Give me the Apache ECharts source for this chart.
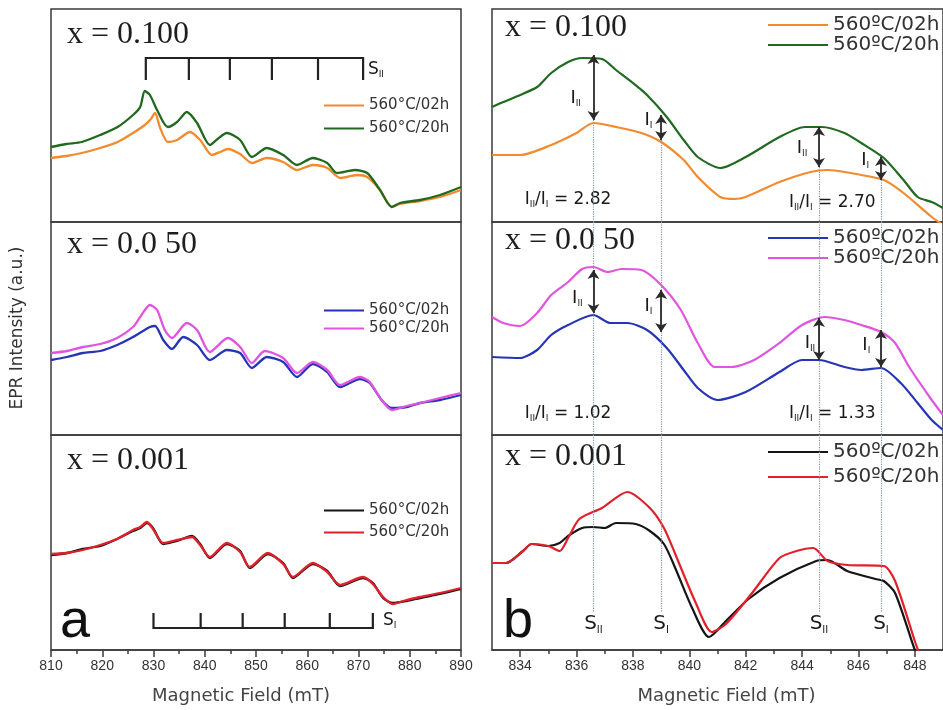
<!DOCTYPE html>
<html>
<head>
<meta charset="utf-8">
<script src="https://cdn.jsdelivr.net/npm/echarts/dist/echarts.min.js"></script>
<style>
  html, body { margin: 0; padding: 0; background: #fff; }
  #chart { width: 943px; height: 710px; }
</style>
</head>
<body>
<div id="chart"></div>
<script>
// ---------- Axis ticks ----------
const fieldTicksA = [810, 820, 830, 840, 850, 860, 870, 880, 890];
const fieldTicksB = [834, 836, 838, 840, 842, 844, 846, 848];
const fieldMinorB = [835, 837, 839, 841, 843, 845, 847];

// ---------- Panel labels ----------
const compositions = ['x = 0.100', 'x = 0.0 50', 'x = 0.001'];
const treatments = ['560°C/02h', '560°C/20h'];
const treatmentsB = ['560ºC/02h', '560ºC/20h'];

// ---------- (a) wide scans, [field mT, intensity a.u.] ----------
const a100_02h = [[810,64],[813,66],[816,69],[819.6,74],[823,80],[826,89],[828.3,97],[829.5,103],[830.3,109],[831.3,94],[832.8,80],[834.6,82],[837.1,90],[839.1,82],[841.4,67],[843,70],[844.5,73],[846.9,68],[849.2,59],[852.1,64],[855.3,60],[858,52],[861.1,57],[863.9,54],[866.4,44],[869.7,47],[871.7,45],[874.2,32],[876.5,15],[878.1,18],[882,21],[885.9,25],[890,32]];
const a100_20h = [[810,75],[813,78],[816,80],[819.6,87],[823,95],[826,107],[827.4,115],[828.3,131],[829.3,127],[830.7,112],[832.8,95],[834.6,100],[836.5,110],[838.5,99],[841,77],[842.5,83],[844.3,89],[846.9,82],[849.2,65],[852.1,74],[855.3,67],[858,57],[861.1,64],[863.9,59],[865.8,49],[869.3,52],[871.7,49],[874.2,32],[876.5,15],[878.1,19],[882,22],[885.9,27],[890,35]];

const a050_02h = [[810,75],[813.1,78],[816.2,82],[819.6,84],[822.9,90],[826,98],[829.3,108],[830.3,109],[831.9,95],[833.6,86],[835.8,98],[838.5,90],[841,75],[844.3,85],[846.9,82],[849.2,67],[852.1,78],[855.3,73],[858,58],[861.1,71],[863.9,63],[866.4,48],[870.3,56],[872.2,52],[874.5,35],[876.5,27],[879.4,28],[882,32],[885.9,35],[890,40]];
const a050_20h = [[810,82],[813.1,84],[816.2,88],[819.6,91],[822.9,97],[826,108],[827.4,118],[829.3,130],[830.7,125],[832.2,105],[833.6,97],[836.5,112],[838.5,105],[841,83],[844.5,97],[846.9,88],[849.2,72],[851.7,84],[855.3,77],[858,62],[861.1,73],[863.9,65],[866.4,50],[870.3,58],[872.2,53],[874.5,35],[876.5,25],[879.4,29],[882,32],[885.9,37],[890,42]];

const a001_02h = [[810,95],[813.1,97],[816.2,101],[819.6,104],[822.9,111],[826,119],[827.4,122],[828.7,127],[829.9,122],[831.9,106],[834.6,109],[837.5,114],[839.1,106],[841,92],[844.3,106],[846.9,99],[848.8,82],[852.3,96],[855.3,87],[857.2,72],[861.1,86],[863.9,79],[866.4,64],[870.9,72],[872.8,67],[874.8,52],[876.7,47],[879.4,49],[882,52],[885.9,56],[890,61]];
const a001_20h = [[810,96],[813.1,97],[816.2,100],[819.6,105],[822.9,111],[826,120],[827.4,123],[828.7,128],[829.9,121],[831.9,107],[834.6,110],[837.5,113],[839.1,105],[841,93],[844.3,107],[846.9,98],[848.8,83],[852.3,97],[855.3,86],[857.2,73],[861.1,87],[863.9,78],[866.4,65],[870.9,73],[872.8,66],[874.8,53],[876.7,46],[879.4,50],[882,53],[885.9,57],[890,62]];

// hyperfine stick patterns
const combSII = [828.5, 836.9, 844.9, 853.1, 862.1, 870.9];
const combSI = [830, 839.2, 847.4, 855.6, 864.4, 872.8];
const combSIIlevels = [164, 142];
const combSIlevels = [22, 37];

// ---------- (b) expanded scans ----------
const b100_02h = [[833,67],[834,67],[835.1,77],[836,89],[836.6,99],[837.4,95],[838.3,89],[839,80],[839.8,62],[840.3,45],[841.1,25],[841.6,23],[842,25],[843.2,40],[844.3,50],[844.9,52],[846.1,47],[846.9,42],[847.6,29],[848.6,5],[849,-3]];
const b100_20h = [[833,115],[833.4,120],[834,127],[834.6,135],[835.1,149],[835.7,160],[836.2,164],[836.9,163],[837.4,152],[838,139],[838.5,127],[839.2,105],[839.8,82],[840.3,65],[841.1,54],[842,65],[843.2,85],[844.1,95],[844.7,95],[845.5,89],[846.1,79],[846.9,64],[847.6,42],[848.1,25],[848.6,20],[849,14]];

const b050_02h = [[833,78],[834,77],[834.6,85],[835.1,100],[835.7,110],[836.6,120],[837.2,112],[837.8,112],[838.5,105],[839.2,87],[839.8,65],[840.3,47],[841,35],[842,43],[843.2,63],[844,75],[844.6,75],[845.5,68],[846.1,65],[846.8,67],[847.5,52],[848.1,32],[848.6,15],[849,5]];
const b050_20h = [[833,118],[833.4,112],[834,109],[834.6,122],[835.1,140],[835.7,153],[836.2,166],[836.6,168],[837.1,163],[837.6,166],[838.3,165],[839,150],[839.7,125],[840.3,92],[840.9,68],[841.5,68],[842.3,75],[843.2,92],[844,110],[844.8,118],[845.5,115],[846.1,110],[846.8,103],[847.3,92],[847.8,68],[848.6,35],[849,20]];

const b001_02h = [[833,87],[833.5,87],[834.1,99],[834.4,106],[835,104],[835.4,107],[835.7,114],[836.2,122],[836.6,123],[837,122],[837.4,127],[838.1,126],[838.6,119],[839.1,106],[839.5,82],[840.1,42],[840.7,13],[841.3,29],[842.1,51],[843.2,72],[844.5,89],[844.9,90],[845.6,79],[846.6,71],[846.9,69],[847.3,57],[848,0],[848.3,-20]];
const b001_20h = [[833,87],[833.5,87],[834.1,99],[834.4,106],[835,104],[835.4,99],[835.7,112],[836.1,131],[836.9,142],[837.8,158],[838.6,142],[839.1,122],[839.5,96],[840.2,49],[840.8,18],[841.3,26],[842.2,56],[843.2,92],[843.8,99],[844.4,102],[844.9,89],[845.6,85],[846.9,84],[847.3,69],[848,9],[848.3,-15]];

// S_II / S_I line positions (mT)
const sPositions = [836.6, 839.0, 844.6, 846.8];
const sNames = ['II', 'I', 'II', 'I'];

// intensity arrows: [field, upper, lower]
const arrows100 = [[836.6,167,102],[839.0,107,82],[844.6,95,55],[846.8,65,42]];
const arrows050 = [[836.6,165,122],[839.0,145,103],[844.6,117,75],[846.8,105,68]];

// arrow captions: [field, intensity, subscript]
const iLabels100 = [[835.97,124,'II'],[838.55,102,'I'],[844.0,74,'II'],[846.24,62,'I']];
const iLabels050 = [[836.03,137,'II'],[838.55,129,'I'],[844.28,92,'II'],[846.28,90,'I']];

// intensity ratios I_II / I_I
const ratios100 = [[835.7,22,'2.82'],[845.07,19,'2.70']];
const ratios050 = [[835.7,21,'1.02'],[845.07,21,'1.33']];

// ---------- layout ----------
const SANS = 'DejaVu Sans';
const rowTop = [9, 222, 435];
const rowHeight = [213, 213, 215];
const colLeft = [51, 492];
const colWidth = [410, 464];

const COLORS = {
  orange: '#f28a2e', green: '#1f6a1f',
  blue: '#2535b5', magenta: '#e055e0',
  black: '#151515', red: '#e0202a'
};

const grids = [];
const xAxes = [];
const yAxes = [];
for (let c = 0; c < 2; c++) {
  for (let r = 0; r < 3; r++) {
    grids.push({
      left: colLeft[c], top: rowTop[r], width: colWidth[c], height: rowHeight[r],
      show: true, borderColor: '#3a3a3a', borderWidth: 1.5, backgroundColor: 'transparent'
    });
    yAxes.push({
      type: 'value', gridIndex: grids.length - 1, min: 0, max: rowHeight[r], show: false
    });
  }
}

// x axes: one per grid
const hiddenX = (g, min, max) => ({
  type: 'value', gridIndex: g, min, max,
  axisLine: { show: false }, axisTick: { show: false },
  axisLabel: { show: false }, splitLine: { show: false }
});
xAxes.push(hiddenX(0, 810, 890), hiddenX(1, 810, 890));
xAxes.push({
  type: 'value', gridIndex: 2, min: fieldTicksA[0], max: fieldTicksA[fieldTicksA.length - 1], interval: 10,
  axisLine: { lineStyle: { color: '#3a3a3a', width: 1.5 } },
  axisTick: { length: 7, lineStyle: { color: '#3a3a3a', width: 1.5 } },
  minorTick: { show: true, splitNumber: 2, length: 4, lineStyle: { color: '#3a3a3a', width: 1.5 } },
  axisLabel: { fontFamily: 'Liberation Sans', fontSize: 14, color: '#333', margin: 9 },
  splitLine: { show: false },
  name: 'Magnetic Field (mT)', nameLocation: 'middle', nameGap: 37,
  nameTextStyle: { fontFamily: SANS, fontSize: 18, color: '#444', padding: [0, 30, 0, 0] }
});
xAxes.push(hiddenX(3, 833, 849), hiddenX(4, 833, 849));
xAxes.push({
  type: 'value', gridIndex: 5, min: 833, max: 849,
  axisLine: { lineStyle: { color: '#3a3a3a', width: 1.5 } },
  axisTick: { length: 7, customValues: fieldTicksB, lineStyle: { color: '#3a3a3a', width: 1.5 } },
  axisLabel: { customValues: fieldTicksB, fontFamily: 'Liberation Sans', fontSize: 14, color: '#333', margin: 9 },
  splitLine: { show: false },
  name: 'Magnetic Field (mT)', nameLocation: 'middle', nameGap: 37,
  nameTextStyle: { fontFamily: SANS, fontSize: 18, color: '#444', padding: [0, 0, 0, 18] }
});
// minor ticks for (b)
xAxes.push({
  type: 'value', gridIndex: 5, min: 833, max: 849, position: 'bottom',
  axisLine: { show: false },
  axisTick: { length: 4, customValues: fieldMinorB, lineStyle: { color: '#3a3a3a', width: 1.5 } },
  axisLabel: { show: false }, splitLine: { show: false }
});

// ---------- series ----------
const series = [];
function curve(name, data, color, g, width) {
  series.push({
    type: 'line', name, data, xAxisIndex: g, yAxisIndex: g,
    symbol: 'none', smooth: 0.25, animation: false, silent: true,
    lineStyle: { color, width }, itemStyle: { color }
  });
  return series[series.length - 1];
}

const legendText = {};
function pair(key, g, d1, c1, d2, c2, width, labels) {
  const n1 = key + '-02h', n2 = key + '-20h';
  legendText[n1] = labels[0];
  legendText[n2] = labels[1];
  const s1 = curve(n1, d1, c1, g, width);
  curve(n2, d2, c2, g, width);
  return [n1, n2, s1];
}

const pA100 = pair('a100', 0, a100_02h, COLORS.orange, a100_20h, COLORS.green, 2.3, treatments);
const pA050 = pair('a050', 1, a050_02h, COLORS.blue, a050_20h, COLORS.magenta, 2.3, treatments);
const pA001 = pair('a001', 2, a001_02h, COLORS.black, a001_20h, COLORS.red, 2.3, treatments);
const pB100 = pair('b100', 3, b100_02h, COLORS.orange, b100_20h, COLORS.green, 2.2, treatmentsB);
const pB050 = pair('b050', 4, b050_02h, COLORS.blue, b050_20h, COLORS.magenta, 2.2, treatmentsB);
const pB001 = pair('b001', 5, b001_02h, COLORS.black, b001_20h, COLORS.red, 2.2, treatmentsB);

// stick patterns
function combPath(ticks, levels) {
  const pts = [];
  ticks.forEach((t, i) => {
    pts.push([t, levels[1]], [t, levels[0]]);
    if (i < ticks.length - 1) pts.push([ticks[i + 1], levels[0]]);
  });
  return pts;
}
[[0, combSII, combSIIlevels], [2, combSI, combSIlevels]].forEach(([g, ticks, lv]) => {
  series.push({
    type: 'line', xAxisIndex: g, yAxisIndex: g, data: combPath(ticks, lv),
    symbol: 'none', animation: false, silent: true,
    lineStyle: { color: '#222', width: 2.2, join: 'miter' }
  });
});

// text annotations placed in data space
function textMarks(g, items, size, subSize, subPad, fmt) {
  series.push({
    type: 'scatter', xAxisIndex: g, yAxisIndex: g, symbolSize: 1, silent: true, animation: false,
    itemStyle: { color: 'rgba(0,0,0,0)', opacity: 1 },
    data: items.map(d => ({ value: [d[0], d[1]], label: { formatter: fmt(d) } })),
    label: {
      show: true, position: 'inside', color: '#1a1a1a', fontFamily: SANS,
      rich: {
        m: { fontSize: size, fontFamily: SANS, color: '#1a1a1a' },
        s: { fontSize: subSize, fontFamily: SANS, color: '#1a1a1a', padding: [subPad, 0, 0, 0] }
      }
    }
  });
}
textMarks(0, [[873.4, 152, 'II']], 17, 9, 9, d => '{m|S}{s|' + d[2] + '}');
textMarks(2, [[876.1, 29, 'I']], 17, 9, 9, d => '{m|S}{s|' + d[2] + '}');
textMarks(3, iLabels100, 18, 9, 11, d => '{m|I}{s|' + d[2] + '}');
textMarks(4, iLabels050, 18, 9, 11, d => '{m|I}{s|' + d[2] + '}');
textMarks(3, ratios100, 17, 9, 10, d => '{m|I}{s|II}{m|/I}{s|I}{m| = ' + d[2] + '}');
textMarks(4, ratios050, 17, 9, 10, d => '{m|I}{s|II}{m|/I}{s|I}{m| = ' + d[2] + '}');
textMarks(5, sPositions.map((x, i) => [x, 26, sNames[i]]), 20, 10, 12, d => '{m|S}{s|' + d[2] + '}');

// guide lines and double-headed arrows in panel (b)
const dotted = { type: 'dotted', color: '#8794a6', width: 1.2 };
const arrowStyle = { type: 'solid', color: '#2a2a2a', width: 1.8 };
function arrowItems(list) {
  return list.map(a => [
    { coord: [a[0], a[1]], symbol: 'arrow', symbolSize: 9, lineStyle: arrowStyle },
    { coord: [a[0], a[2]], symbol: 'arrow', symbolSize: 9 }
  ]);
}
function lineItems(list) {
  return list.map(l => [
    { coord: [l[0], l[1]], symbol: 'none', lineStyle: dotted },
    { coord: [l[0], l[2]], symbol: 'none' }
  ]);
}
function marks(s, items) {
  s.markLine = {
    silent: true, animation: false, symbol: ['none', 'none'],
    label: { show: false }, emphasis: { disabled: true }, data: items
  };
}
marks(pB100[2], lineItems(arrows100.map(a => [a[0], a[2], 0])).concat(arrowItems(arrows100)));
marks(pB050[2], lineItems(sPositions.map(x => [x, 213, 0])).concat(arrowItems(arrows050)));
marks(pB001[2], lineItems(sPositions.map(x => [x, 215, 38])));

// ---------- legends (line swatches only) ----------
function legend(names, left, top, iw, ih, gap, size) {
  return {
    data: names, left, top, orient: 'vertical', padding: 0,
    itemWidth: iw, itemHeight: ih, itemGap: gap, selectedMode: false,
    itemStyle: { color: 'rgba(0,0,0,0)', borderColor: 'rgba(0,0,0,0)', borderWidth: 0 },
    formatter: n => legendText[n],
    textStyle: { fontFamily: SANS, fontSize: size, color: '#333', lineHeight: ih }
  };
}
const legends = [
  legend(pA100.slice(0, 2), 323, 98, 40, 14, 8, 15),
  legend(pA050.slice(0, 2), 323, 303, 40, 14, 3, 15),
  legend(pA001.slice(0, 2), 323, 503, 40, 14, 7, 15),
  legend(pB100.slice(0, 2), 767, 15, 60, 20, 0, 20),
  legend(pB050.slice(0, 2), 767, 228, 60, 20, 0, 20),
  legend(pB001.slice(0, 2), 767, 442, 60, 20, 5, 20)
];

// ---------- free text ----------
const labelCenters = [[67, 35], [67, 245], [67, 461], [505, 28], [505, 241], [505, 457]];
const graphic = labelCenters.map((p, i) => ({
  type: 'text', x: p[0], y: p[1], silent: true,
  style: {
    text: compositions[i % 3], font: '32px "Liberation Serif"', fill: '#1e1e1e',
    textAlign: 'left', textVerticalAlign: 'middle'
  }
}));
graphic.push(
  { type: 'text', x: 60, y: 622, silent: true,
    style: { text: 'a', font: '54px "Liberation Sans"', fill: '#111', textAlign: 'left', textVerticalAlign: 'middle' } },
  { type: 'text', x: 503, y: 622, silent: true,
    style: { text: 'b', font: '54px "Liberation Sans"', fill: '#111', textAlign: 'left', textVerticalAlign: 'middle' } },
  { type: 'text', x: 18, y: 328, rotation: Math.PI / 2, silent: true,
    style: { text: 'EPR Intensity (a.u.)', font: '17px "DejaVu Sans"', fill: '#333', textAlign: 'center', textVerticalAlign: 'middle' } }
);

const chart = echarts.init(document.getElementById('chart'), null, { renderer: 'canvas' });
chart.setOption({
  animation: false,
  backgroundColor: '#fff',
  grid: grids,
  xAxis: xAxes,
  yAxis: yAxes,
  legend: legends,
  series,
  graphic
});
</script>
</body>
</html>
